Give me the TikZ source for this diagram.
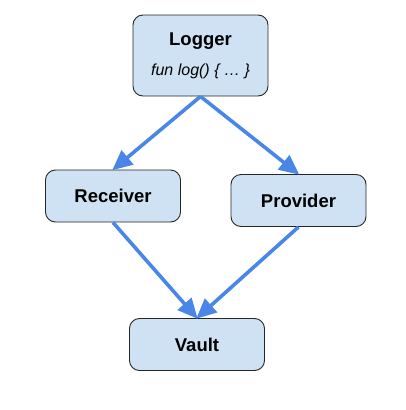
\documentclass[tikz,border=0pt]{standalone}
\usepackage{fontspec}
\setmainfont{Liberation Sans}
\usetikzlibrary{arrows.meta}

\definecolor{boxfill}{HTML}{CFE2F3}
\definecolor{flowblue}{HTML}{4A86E8}

\begin{document}
\begin{tikzpicture}[x=1pt, y=-1pt]
    \tikzset{box/.style={draw=black!85, fill=boxfill, line width=0.9pt, rounded corners=10pt,
        minimum width=135pt, minimum height=52pt, align=center,
        font=\fontsize{18.5}{22}\selectfont\bfseries}};
    \tikzset{flow/.style={draw=flowblue, line width=3.6pt,
        -{Triangle[length=20pt, width=18pt]}, shorten >=-1pt}};

    \useasboundingbox (0, 0) rectangle (406, 410);

    % Top
    \node [box, minimum height=81pt] (logger) at (200.5, 55.5)
        {Logger\\[8pt]{\fontsize{16}{19}\selectfont\mdseries\itshape fun log() \{ … \}}};

    % Middle
    \node [box] (receiver) at (113, 196) {Receiver};
    \node [box] (provider) at (298.5, 200.5) {Provider};

    % Bottom
    \node [box] (vault) at (197, 344.5) {Vault};

    % Edges
    \foreach \i in {receiver, provider} { \draw [flow] (logger.south) -- (\i.north); }
    \foreach \i in {receiver, provider} { \draw [flow] (\i.south) -- (vault.north); }
  \end{tikzpicture}
\end{document}
